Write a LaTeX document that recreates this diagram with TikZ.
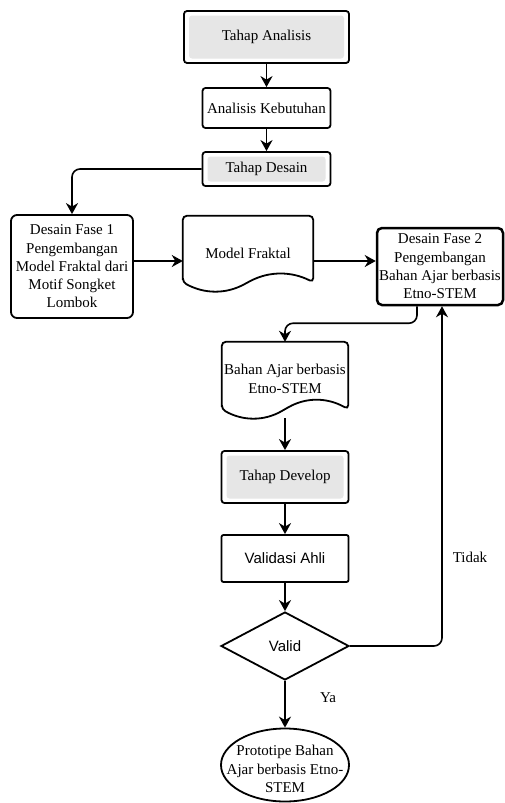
\documentclass[tikz,border=0pt]{standalone}
\usepackage{fontspec}
\setmainfont{Liberation Serif}
\newfontfamily\arialf{Liberation Sans}
\usetikzlibrary{shapes.geometric,arrows.meta,calc}
\definecolor{graybox}{HTML}{E6E6E6}
\begin{document}
\begin{tikzpicture}[x=1pt,y=-1pt,
  every node/.style={font=\fontsize{15}{18.3}\selectfont, inner sep=0pt, align=center},
  box/.style={draw, line width=1.8pt, rounded corners=3pt, fill=white},
  tahap/.style={box, path picture={\fill[graybox] ([shift={(5pt,-4.5pt)}]path picture bounding box.north west) rectangle ([shift={(-5pt,4.5pt)}]path picture bounding box.south east);}},
  docline/.style={draw, line width=1.8pt, fill=white, rounded corners=4pt},
  conn/.style={line width=1.6pt, -{Stealth[length=11pt,width=12pt,inset=3.5pt]}},
  lbl/.style={font=\fontsize{15}{18}\selectfont}
]
\useasboundingbox (0,0) rectangle (504,803);

\node[tahap, minimum width=165pt, minimum height=52pt] (ta) at (266.5,37) {Tahap Analisis};
\node[box, minimum width=128pt, minimum height=40pt] (ak) at (266.5,108) {Analisis Kebutuhan};
\node[tahap, minimum width=128pt, minimum height=34pt] (td) at (266.5,169) {Tahap Desain};
\node[box, rounded corners=6pt, minimum width=122pt, minimum height=103pt] (df1) at (72,266.5)
  {Desain Fase 1\\Pengembangan\\Model Fraktal dari\\Motif Songket\\Lombok};

% Model Fraktal document
\node[minimum width=130pt, minimum height=75pt] (mf) at (248,253.5) {};
\coordinate (mfL) at ([yshift=9pt]mf.south west);
\coordinate (mfR) at ([yshift=9pt]mf.south east);
\coordinate (mfM) at ([yshift=9pt]mf.south);
\draw[docline] (mfL) -- (mf.north west) -- (mf.north east) -- (mfR)
  .. controls ([shift={(-21.7pt,11pt)}]mfR) and ([shift={(21.7pt,11pt)}]mfM) .. (mfM)
  .. controls ([shift={(-21.7pt,-12pt)}]mfM) and ([shift={(21.7pt,-12pt)}]mfL) .. (mfL) -- cycle;
\node at (mf.center) {Model Fraktal};

\node[box, line width=2.5pt, rounded corners=5pt, minimum width=126pt, minimum height=77pt] (df2) at (440,266.5)
  {Desain Fase 2\\Pengembangan\\Bahan Ajar berbasis\\Etno-STEM};

% Bahan Ajar document
\node[minimum width=126pt, minimum height=76pt] (ba) at (285,380) {};
\coordinate (baL) at ([yshift=9pt]ba.south west);
\coordinate (baR) at ([yshift=9pt]ba.south east);
\coordinate (baM) at ([yshift=9pt]ba.south);
\draw[docline] (baL) -- (ba.north west) -- (ba.north east) -- (baR)
  .. controls ([shift={(-21pt,12pt)}]baR) and ([shift={(21pt,12pt)}]baM) .. (baM)
  .. controls ([shift={(-21pt,-12pt)}]baM) and ([shift={(21pt,-12pt)}]baL) .. (baL) -- cycle;
\node at ([yshift=1pt]ba.center) {Bahan Ajar berbasis\\Etno-STEM};

\node[tahap, minimum width=127pt, minimum height=52pt] (tdev) at (285,477) {Tahap Develop};
\node[box, rounded corners=2pt, minimum width=127pt, minimum height=47pt, font=\arialf\fontsize{15}{18}\selectfont] (va) at (285,558.5) {Validasi Ahli};
\node[diamond, draw, line width=1.8pt, fill=white, minimum width=128pt, minimum height=68pt, font=\arialf\fontsize{15}{18}\selectfont] (valid) at (285,646) {Valid};
\node[ellipse, draw, line width=1.8pt, fill=white, minimum width=128pt, minimum height=73pt] (proto) at (285,765) {};
\node at ([yshift=-4pt]proto.center) {Prototipe Bahan\\Ajar berbasis Etno-\\STEM};

\coordinate (row) at (0,261);

\draw[conn] (ta.south) -- (ak.north);
\draw[conn] (ak.south) -- (td.north);
\draw[conn, rounded corners=8pt] (td.west) -| (df1.north);
\draw[conn] (df1.east |- row) -- (mf.west |- row);
\draw[conn] (mf.east |- row) -- (df2.west |- row);
\draw[conn, rounded corners=8pt] ([xshift=-23pt]df2.south) -- ++(0,17) -| (ba.north);
\draw[conn] (ba.south) -- (tdev.north);
\draw[conn] (tdev.south) -- (va.north);
\draw[conn] (va.south) -- (valid.north);
\draw[conn, rounded corners=8pt] (valid.east) -| ([xshift=2pt]df2.south);
\draw[conn] (valid.south) -- (proto.north);

\node[lbl] (tidak) at (470,557) {Tidak};
\node[lbl] (ya) at (328,698) {Ya};
\end{tikzpicture}
\end{document}
